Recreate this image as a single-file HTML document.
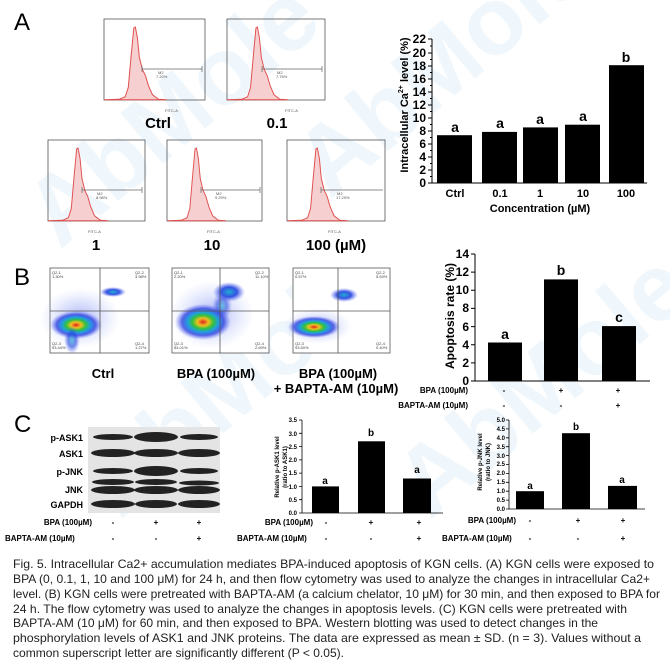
<!DOCTYPE html>
<html><head><meta charset="utf-8"><style>
html,body{margin:0;padding:0;background:#fff}
svg{display:block}
text{font-family:"Liberation Sans",Arial,sans-serif}
</style></head><body>
<svg width="670" height="664" viewBox="0 0 670 664" xmlns="http://www.w3.org/2000/svg">
<defs>
<radialGradient id="blob" cx="50%" cy="50%" r="50%">
<stop offset="0" stop-color="#e02020"/><stop offset="0.2" stop-color="#f0c020"/><stop offset="0.38" stop-color="#30c040"/><stop offset="0.55" stop-color="#20a0e0"/><stop offset="0.75" stop-color="#3040e0" stop-opacity="0.8"/><stop offset="1" stop-color="#6070f0" stop-opacity="0"/>
</radialGradient>
<radialGradient id="blob2" cx="50%" cy="50%" r="50%">
<stop offset="0" stop-color="#20b0d0"/><stop offset="0.5" stop-color="#2040e0" stop-opacity="0.9"/><stop offset="1" stop-color="#6070f0" stop-opacity="0"/>
</radialGradient>
<radialGradient id="haze" cx="50%" cy="50%" r="50%">
<stop offset="0" stop-color="#7080f0" stop-opacity="0.6"/><stop offset="1" stop-color="#a0b0f8" stop-opacity="0"/>
</radialGradient>
<path id="hist" d="M0,80 L15,79.5 L21,77 L24,68 L27,35 L29.5,9 L31,8 L33,18 L35,38 L38,50 L41,56 L44,66 L48,75 L54,79.5 L62,80 Z"/>
</defs>

<!-- watermarks -->
<g fill="#dcedf8" font-weight="bold" font-size="96" opacity="0.45">
<text transform="translate(60,250) rotate(-40)">AbMole</text>
<text transform="translate(330,200) rotate(-40)">AbMole</text>
<text transform="translate(120,520) rotate(-40)">AbMole</text>
<text transform="translate(430,520) rotate(-40)">AbMole</text>
</g>

<!-- Panel A -->
<text x="14" y="30" font-size="24">A</text>

<g stroke="#555" stroke-width="0.8" fill="none">
<rect x="104" y="19" width="101" height="81"/>
<rect x="227" y="19" width="98" height="81"/>
<rect x="48" y="140" width="97" height="81"/>
<rect x="167" y="140" width="95" height="81"/>
<rect x="287" y="140" width="98" height="81"/>
</g>
<g fill="#f6d0d0" stroke="#e05050" stroke-width="1">
<use href="#hist" transform="translate(104,19) scale(1.01,1.01)"/>
<use href="#hist" transform="translate(227,19) scale(0.98,1.01)"/>
<use href="#hist" transform="translate(48,140) scale(0.97,1.01)"/>
<use href="#hist" transform="translate(167,140) scale(0.95,1.01)"/>
<use href="#hist" transform="translate(287,140) scale(0.98,1.01)"/>
</g>
<g stroke="#666" stroke-width="0.7">
<line x1="142" y1="69" x2="202" y2="69"/><line x1="142" y1="66" x2="142" y2="72"/><line x1="202" y1="66" x2="202" y2="72"/>
<line x1="262" y1="69" x2="322" y2="69"/><line x1="262" y1="66" x2="262" y2="72"/><line x1="322" y1="66" x2="322" y2="72"/>
<line x1="82" y1="190" x2="142" y2="190"/><line x1="82" y1="187" x2="82" y2="193"/><line x1="142" y1="187" x2="142" y2="193"/>
<line x1="201" y1="190" x2="260" y2="190"/><line x1="201" y1="187" x2="201" y2="193"/><line x1="260" y1="187" x2="260" y2="193"/>
<line x1="321" y1="190" x2="383" y2="190"/><line x1="321" y1="187" x2="321" y2="193"/>
</g>
<g font-size="4" fill="#555">
<text x="158" y="74">M2</text><text x="156" y="78">7.20%</text>
<text x="277" y="74">M2</text><text x="276" y="78">7.76%</text>
<text x="97" y="195">M2</text><text x="96" y="199">8.98%</text>
<text x="216" y="195">M2</text><text x="215" y="199">9.29%</text>
<text x="337" y="195">M2</text><text x="336" y="199">17.29%</text>
<text x="165" y="112">FITC-A</text><text x="285" y="112">FITC-A</text>
<text x="88" y="233">FITC-A</text><text x="207" y="233">FITC-A</text><text x="328" y="233">FITC-A</text>
</g>
<g font-size="15" font-weight="bold" text-anchor="middle">
<text x="158" y="128">Ctrl</text>
<text x="277" y="128">0.1</text>
<text x="96" y="250">1</text>
<text x="212" y="250">10</text>
<text x="336" y="250">100 (µM)</text>
</g>

<!-- Bar chart A -->
<g stroke="#000" stroke-width="1">
<line x1="432" y1="39" x2="432" y2="183"/>
<line x1="432" y1="183" x2="647" y2="183"/>
<path d="M428,183h4M428,170h4M428,157h4M428,144h4M428,131h4M428,118h4M428,105h4M428,92h4M428,79h4M428,66h4M428,53h4M428,39h4"/>
<path d="M430,176.5h2M430,163.5h2M430,150.5h2M430,137.5h2M430,124.5h2M430,111.5h2M430,98.5h2M430,85.5h2M430,72.5h2M430,59.5h2M430,46h2"/>
</g>
<g fill="#000">
<rect x="437" y="135.2" width="35" height="47.8"/>
<rect x="482" y="131.9" width="35" height="51.1"/>
<rect x="523" y="127.4" width="35" height="55.6"/>
<rect x="565" y="124.7" width="35" height="58.3"/>
<rect x="609" y="65.2" width="35" height="117.8"/>
</g>
<g font-size="12" font-weight="bold" text-anchor="end">
<text x="426" y="187">0</text><text x="426" y="174">2</text><text x="426" y="161">4</text><text x="426" y="148">6</text><text x="426" y="135">8</text><text x="426" y="122">10</text><text x="426" y="109">12</text><text x="426" y="96">14</text><text x="426" y="83">16</text><text x="426" y="70">18</text><text x="426" y="57">20</text><text x="426" y="43">22</text>
</g>
<g font-size="14" font-weight="bold" text-anchor="middle">
<text x="455" y="132">a</text><text x="500" y="128">a</text><text x="540" y="124">a</text><text x="583" y="121">a</text><text x="626" y="62">b</text>
</g>
<g font-size="11" font-weight="bold" text-anchor="middle">
<text x="455" y="197">Ctrl</text><text x="500" y="197">0.1</text><text x="540" y="197">1</text><text x="583" y="197">10</text><text x="626" y="197">100</text>
<text x="540" y="212">Concentration (µM)</text>
<text transform="translate(408,105) rotate(-90)">Intracellular Ca<tspan font-size="7" dy="-5">2+</tspan><tspan dy="5"> level (%)</tspan></text>
</g>

<!-- Panel B -->
<text x="14" y="285" font-size="24">B</text>
<g>
<rect x="50" y="268" width="99" height="85" fill="#fff" stroke="#555" stroke-width="0.8"/>
<ellipse cx="80" cy="318" rx="40" ry="30" fill="url(#haze)"/>
<ellipse cx="76" cy="325" rx="26" ry="14" fill="url(#blob)"/>
<ellipse cx="72" cy="340" rx="8" ry="14" fill="url(#blob2)" opacity="0.7"/>
<ellipse cx="113" cy="292" rx="13" ry="5" fill="url(#blob2)"/>
<line x1="100" y1="268" x2="100" y2="353" stroke="#555" stroke-width="0.8"/>
<line x1="50" y1="311" x2="149" y2="311" stroke="#555" stroke-width="0.8"/>

<rect x="172" y="268" width="97" height="85" fill="#fff" stroke="#555" stroke-width="0.8"/>
<ellipse cx="212" cy="315" rx="42" ry="34" fill="url(#haze)"/>
<ellipse cx="203" cy="322" rx="28" ry="18" fill="url(#blob)"/>
<ellipse cx="229" cy="292" rx="16" ry="10" fill="url(#blob2)"/>
<ellipse cx="222" cy="306" rx="10" ry="14" fill="url(#blob2)" opacity="0.6"/>
<line x1="220" y1="268" x2="220" y2="353" stroke="#555" stroke-width="0.8"/>
<line x1="172" y1="311" x2="269" y2="311" stroke="#555" stroke-width="0.8"/>

<rect x="293" y="268" width="97" height="85" fill="#fff" stroke="#555" stroke-width="0.8"/>
<ellipse cx="318" cy="326" rx="34" ry="18" fill="url(#haze)"/>
<ellipse cx="314" cy="327" rx="26" ry="11" fill="url(#blob)"/>
<ellipse cx="344" cy="295" rx="14" ry="7" fill="url(#blob2)"/>
<line x1="338" y1="268" x2="338" y2="353" stroke="#555" stroke-width="0.8"/>
<line x1="293" y1="311" x2="390" y2="311" stroke="#555" stroke-width="0.8"/>
</g>
<g font-size="4" fill="#444">
<text x="52" y="274">Q2-1</text><text x="52" y="278">1.30%</text><text x="135" y="274">Q2-2</text><text x="135" y="278">3.98%</text>
<text x="52" y="345">Q2-3</text><text x="52" y="349">93.44%</text><text x="135" y="345">Q2-4</text><text x="135" y="349">1.27%</text>
<text x="174" y="274">Q2-1</text><text x="174" y="278">2.20%</text><text x="255" y="274">Q2-2</text><text x="255" y="278">11.10%</text>
<text x="174" y="345">Q2-3</text><text x="174" y="349">84.01%</text><text x="255" y="345">Q2-4</text><text x="255" y="349">2.69%</text>
<text x="295" y="274">Q2-1</text><text x="295" y="278">0.57%</text><text x="376" y="274">Q2-2</text><text x="376" y="278">5.53%</text>
<text x="295" y="345">Q2-3</text><text x="295" y="349">93.50%</text><text x="376" y="345">Q2-4</text><text x="376" y="349">0.40%</text>
</g>
<g font-size="13" font-weight="bold" text-anchor="middle">
<text x="103" y="378">Ctrl</text>
<text x="216" y="378">BPA (100µM)</text>
<text x="338" y="378">BPA (100µM)</text>
<text x="336" y="393">+ BAPTA-AM (10µM)</text>
</g>

<!-- Bar chart B -->
<g stroke="#000" stroke-width="1">
<line x1="475" y1="254" x2="475" y2="381"/>
<line x1="475" y1="381" x2="650" y2="381"/>
<path d="M471,381h4M471,362.9h4M471,344.7h4M471,326.6h4M471,308.4h4M471,290.3h4M471,272.1h4M471,254h4"/>
</g>
<g fill="#000">
<rect x="488" y="342.5" width="34" height="38.5"/>
<rect x="544" y="279.4" width="34" height="101.6"/>
<rect x="602" y="326.1" width="34" height="54.9"/>
</g>
<g font-size="12" font-weight="bold" text-anchor="end">
<text x="469" y="385">0</text><text x="469" y="367">2</text><text x="469" y="349">4</text><text x="469" y="331">6</text><text x="469" y="312">8</text><text x="469" y="294">10</text><text x="469" y="276">12</text><text x="469" y="258">14</text>
</g>
<g font-size="14" font-weight="bold" text-anchor="middle">
<text x="505" y="339">a</text><text x="561" y="275">b</text><text x="619" y="322">c</text>
<text transform="translate(454,316) rotate(-90)" font-size="12">Apoptosis rate (%)</text>
</g>
<g font-size="8" font-weight="bold">
<text x="468" y="393" text-anchor="end">BPA (100µM)</text>
<text x="468" y="408" text-anchor="end">BAPTA-AM (10µM)</text>
<text x="504" y="393" text-anchor="middle">-</text><text x="561" y="393" text-anchor="middle">+</text><text x="618" y="393" text-anchor="middle">+</text>
<text x="504" y="408" text-anchor="middle">-</text><text x="561" y="408" text-anchor="middle">-</text><text x="618" y="408" text-anchor="middle">+</text>
</g>

<!-- Panel C -->
<text x="14" y="432" font-size="24">C</text>
<rect x="88" y="427" width="132" height="86" fill="#e4e4e4"/>
<g fill="#222">
<ellipse cx="113" cy="437" rx="20" ry="3"/><ellipse cx="156" cy="437" rx="22" ry="5"/><ellipse cx="199" cy="437" rx="19" ry="3"/>
<ellipse cx="113" cy="453" rx="22" ry="4"/><ellipse cx="156" cy="453" rx="22" ry="4"/><ellipse cx="199" cy="453" rx="21" ry="4"/>
<ellipse cx="113" cy="471" rx="20" ry="3"/><ellipse cx="156" cy="471" rx="22" ry="5"/><ellipse cx="199" cy="471" rx="19" ry="3"/>
<ellipse cx="113" cy="482" rx="21" ry="3"/><ellipse cx="156" cy="482" rx="21" ry="3"/><ellipse cx="199" cy="483" rx="20" ry="2.5"/>
<ellipse cx="113" cy="490" rx="22" ry="4"/><ellipse cx="156" cy="490" rx="22" ry="4"/><ellipse cx="199" cy="490" rx="21" ry="4"/>
<ellipse cx="113" cy="504" rx="22" ry="4"/><ellipse cx="156" cy="504" rx="21" ry="4"/><ellipse cx="199" cy="504" rx="21" ry="4"/>
</g>
<g font-size="9" font-weight="bold" text-anchor="end">
<text x="83" y="441">p-ASK1</text><text x="83" y="457">ASK1</text><text x="83" y="475">p-JNK</text><text x="83" y="493">JNK</text><text x="83" y="508">GAPDH</text>
</g>
<g font-size="8" font-weight="bold">
<text x="92" y="525" text-anchor="end">BPA (100µM)</text>
<text x="5" y="541">BAPTA-AM (10µM)</text>
<text x="113" y="525" text-anchor="middle">-</text><text x="156" y="525" text-anchor="middle">+</text><text x="199" y="525" text-anchor="middle">+</text>
<text x="113" y="541" text-anchor="middle">-</text><text x="156" y="541" text-anchor="middle">-</text><text x="199" y="541" text-anchor="middle">+</text>
</g>

<!-- p-ASK1 chart -->
<g stroke="#000" stroke-width="0.8">
<line x1="302" y1="420" x2="302" y2="513"/><line x1="302" y1="513" x2="443" y2="513"/>
<path d="M299,513h3M299,499.7h3M299,486.4h3M299,473.1h3M299,459.9h3M299,446.6h3M299,433.3h3M299,420h3"/>
</g>
<g fill="#000">
<rect x="312" y="486.4" width="27" height="26.6"/><rect x="358" y="441.3" width="27" height="71.7"/><rect x="403" y="478.5" width="28" height="34.5"/>
</g>
<g font-size="6" font-weight="bold" text-anchor="end">
<text x="297" y="515">0.0</text><text x="297" y="502">0.5</text><text x="297" y="489">1.0</text><text x="297" y="475">1.5</text><text x="297" y="462">2.0</text><text x="297" y="449">2.5</text><text x="297" y="436">3.0</text><text x="297" y="422">3.5</text>
</g>
<g font-size="10" font-weight="bold" text-anchor="middle">
<text x="325" y="484">a</text><text x="371" y="436">b</text><text x="417" y="473">a</text>
</g>
<g font-size="6" font-weight="bold" text-anchor="middle">
<text transform="translate(279,467) rotate(-90)">Relative p-ASK1 level</text>
<text transform="translate(287,467) rotate(-90)">(ratio to ASK1)</text>
</g>
<g font-size="8" font-weight="bold">
<text x="313" y="525" text-anchor="end">BPA (100µM)</text>
<text x="237" y="541">BAPTA-AM (10µM)</text>
<text x="326" y="525" text-anchor="middle">-</text><text x="371" y="525" text-anchor="middle">+</text><text x="419" y="525" text-anchor="middle">+</text>
<text x="326" y="541" text-anchor="middle">-</text><text x="371" y="541" text-anchor="middle">-</text><text x="419" y="541" text-anchor="middle">+</text>
</g>

<!-- p-JNK chart -->
<g stroke="#000" stroke-width="0.8">
<line x1="509" y1="420" x2="509" y2="509"/><line x1="509" y1="509" x2="645" y2="509"/>
<path d="M506,509h3M506,500.1h3M506,491.2h3M506,482.3h3M506,473.4h3M506,464.5h3M506,455.6h3M506,446.7h3M506,437.8h3M506,428.9h3M506,420h3"/>
</g>
<g fill="#000">
<rect x="516" y="491.2" width="28" height="17.8"/><rect x="562" y="433.2" width="28" height="75.8"/><rect x="608" y="485.9" width="29" height="23.1"/>
</g>
<g font-size="6" font-weight="bold" text-anchor="end">
<text x="505" y="511">0.0</text><text x="505" y="502">0.5</text><text x="505" y="493">1.0</text><text x="505" y="484">1.5</text><text x="505" y="475">2.0</text><text x="505" y="466">2.5</text><text x="505" y="458">3.0</text><text x="505" y="449">3.5</text><text x="505" y="440">4.0</text><text x="505" y="431">4.5</text><text x="505" y="422">5.0</text>
</g>
<g font-size="10" font-weight="bold" text-anchor="middle">
<text x="530" y="489">a</text><text x="576" y="430">b</text><text x="622" y="483">a</text>
</g>
<g font-size="6" font-weight="bold" text-anchor="middle">
<text transform="translate(482,462) rotate(-90)">Relative p-JNK level</text>
<text transform="translate(490,462) rotate(-90)">(ratio to JNK)</text>
</g>
<g font-size="8" font-weight="bold">
<text x="516" y="523" text-anchor="end">BPA (100µM)</text>
<text x="442" y="541">BAPTA-AM (10µM)</text>
<text x="530" y="523" text-anchor="middle">-</text><text x="578" y="523" text-anchor="middle">+</text><text x="623" y="523" text-anchor="middle">+</text>
<text x="530" y="541" text-anchor="middle">-</text><text x="578" y="541" text-anchor="middle">-</text><text x="623" y="541" text-anchor="middle">+</text>
</g>

<!-- caption -->
<g font-size="12" fill="#222">
<text x="13" y="568" textLength="641" lengthAdjust="spacingAndGlyphs">Fig. 5. Intracellular Ca2+ accumulation mediates BPA-induced apoptosis of KGN cells. (A) KGN cells were exposed to</text>
<text x="13" y="583" textLength="637" lengthAdjust="spacingAndGlyphs">BPA (0, 0.1, 1, 10 and 100 μM) for 24 h, and then flow cytometry was used to analyze the changes in intracellular Ca2+</text>
<text x="13" y="598" textLength="647" lengthAdjust="spacingAndGlyphs">level. (B) KGN cells were pretreated with BAPTA-AM (a calcium chelator, 10 μM) for 30 min, and then exposed to BPA for</text>
<text x="13" y="613" textLength="614" lengthAdjust="spacingAndGlyphs">24 h. The flow cytometry was used to analyze the changes in apoptosis levels. (C) KGN cells were pretreated with</text>
<text x="13" y="627" textLength="585" lengthAdjust="spacingAndGlyphs">BAPTA-AM (10 μM) for 60 min, and then exposed to BPA. Western blotting was used to detect changes in the</text>
<text x="13" y="642" textLength="628" lengthAdjust="spacingAndGlyphs">phosphorylation levels of ASK1 and JNK proteins. The data are expressed as mean ± SD. (n = 3). Values without a</text>
<text x="13" y="657" textLength="331" lengthAdjust="spacingAndGlyphs">common superscript letter are significantly different (P &lt; 0.05).</text>
</g>
</svg>
</body></html>
